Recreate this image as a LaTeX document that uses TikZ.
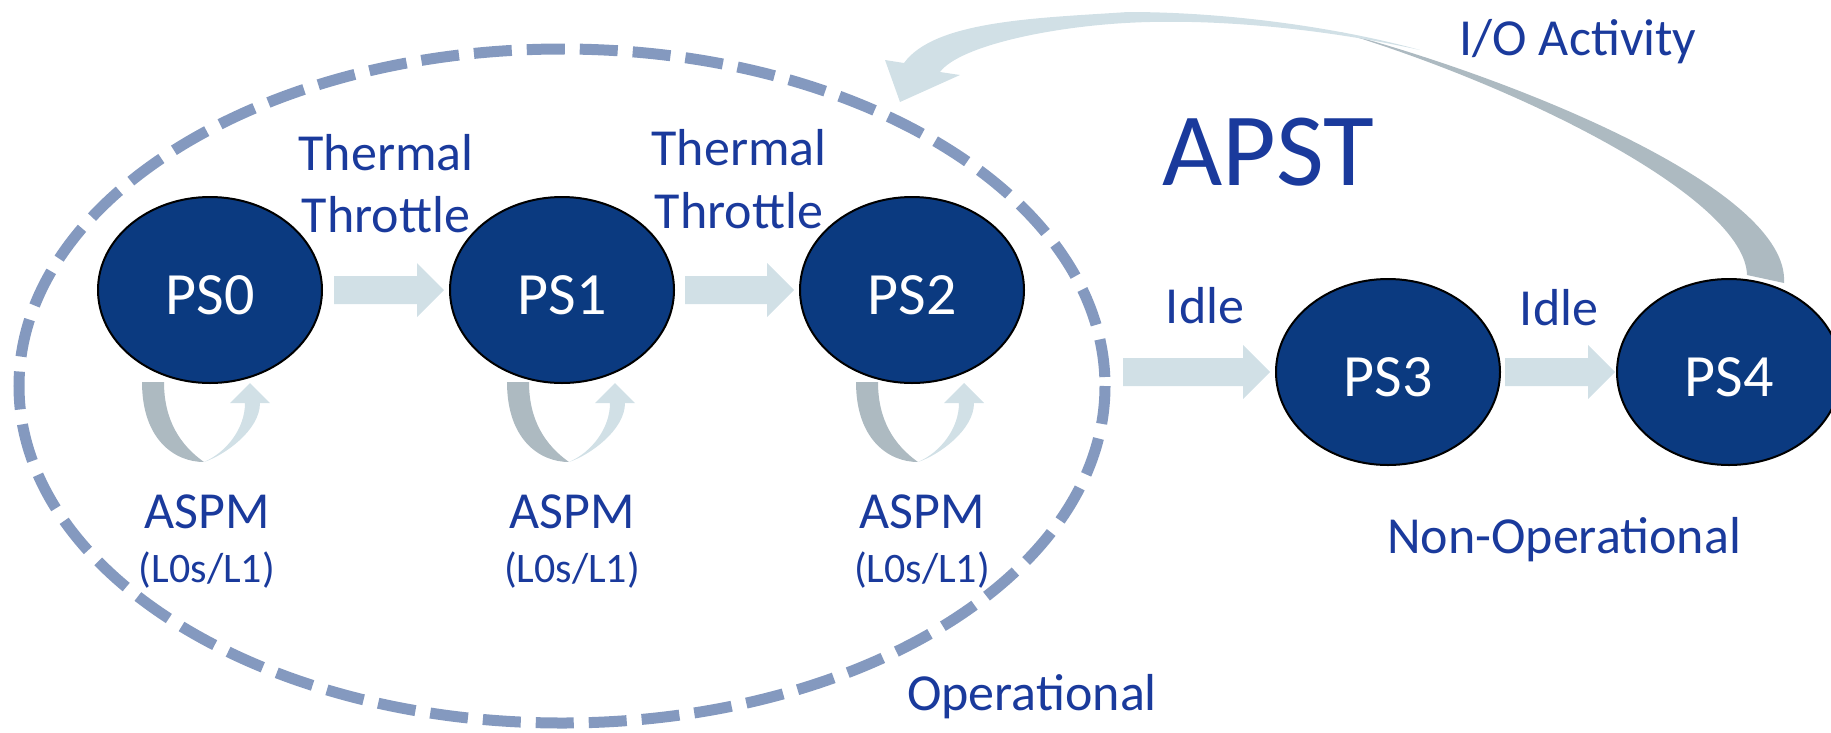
\documentclass[tikz,border=0pt]{standalone}
\usepackage{fontspec}
\setmainfont{Carlito}
\usetikzlibrary{calc,shapes.geometric}
\definecolor{nodefill}{HTML}{0B3A80}
\definecolor{labelblue}{HTML}{1A3A9C}
\definecolor{ringblue}{HTML}{8499BF}
\definecolor{arrowlight}{HTML}{D1E0E6}
\definecolor{arrowgrey}{HTML}{ADBAC1}

\begin{document}
\begin{tikzpicture}[x=1pt,y=-1pt,
  state/.style={ellipse, draw=black, line width=2pt, fill=nodefill, text=white,
    minimum width=224pt, minimum height=186pt, inner sep=0pt,
    text height=48pt, text depth=0pt, font=\fontsize{60}{72}\selectfont},
  lbl/.style={text=labelblue, anchor=base, inner sep=0pt, font=\fontsize{52}{62}\selectfont},
  sublbl/.style={lbl, font=\fontsize{42}{50}\selectfont},
  titlelbl/.style={lbl, font=\fontsize{104}{124}\selectfont},
  ring/.style={draw=ringblue, line width=11pt, dash pattern=on 38pt off 15pt},
  flow/.style 2 args={fill=arrowlight, to path={
    let \p1=(\tikztostart.east), \p2=(\tikztotarget.west) in
    (\x1+#1,\y2+14pt) -- (\x2-#2-27pt,\y2+14pt) -- (\x2-#2-27pt,\y2+27pt) --
    (\x2-#2,\y2) -- (\x2-#2-27pt,\y2-27pt) -- (\x2-#2-27pt,\y2-14pt) --
    (\x1+#1,\y2-14pt) -- cycle}},
  pics/aspmloop/.style={code={
    % back half of the U-turn
    \fill[arrowgrey] (-63,382) .. controls (-63,440) and (-30,462) .. (-1,462)
      .. controls (-25,445) and (-41,420) .. (-41,382) -- cycle;
    % front half rising to the arrow head
    \fill[arrowlight] (-1,462) .. controls (20,455) and (55,430) .. (55,403)
      -- (65,403) -- (45,383) -- (25,403) -- (40,403)
      .. controls (40,428) and (22,452) .. (-1,462) -- cycle;
  }}
]
\useasboundingbox (0,0) rectangle (1831,732);
\clip (0,0) rectangle (1831,732);

% operational region
\draw[ring] (562,386) ellipse [x radius=543, y radius=337];

% power states
\node[state] (PS0) at (210,290) {PS0};
\node[state] (PS1) at (562,290) {PS1};
\node[state] (PS2) at (912,290) {PS2};
\node[state] (PS3) at (1388,372) {PS3};
\node[state] (PS4) at (1729,372) {PS4};

% transitions
\path[flow={11pt}{5pt}] (PS0) to (PS1);
\path[flow={10pt}{5pt}] (PS1) to (PS2);
\path[flow={98pt}{5pt}] (PS2) to (PS3);
\path[flow={4pt}{1pt}] (PS3) to (PS4);

% ASPM self loops
\pic at (205,0) {aspmloop};
\pic at (570,0) {aspmloop};
\pic at (919,0) {aspmloop};

% I/O activity return path from PS4
\fill[arrowgrey] (1340,32) .. controls (1520,80) and (1790,190) .. (1784,283)
  -- (1747,275) .. controls (1745,200) and (1530,90) .. (1340,32) -- cycle;
\fill[arrowlight] (904,63) .. controls (935,20) and (1040,18) .. (1128,12)
  .. controls (1230,12) and (1340,28) .. (1420,50)
  .. controls (1330,30) and (1230,20) .. (1150,22)
  .. controls (1060,24) and (960,45) .. (940,72)
  -- (960,75) -- (900,102) -- (885,60) -- cycle;

% labels
\node[lbl] (th1a) at (386,170) {Thermal};
\node[lbl] (th1b) at (386,232) {Throttle};
\node[lbl] (th2a) at (739,165) {Thermal};
\node[lbl] (th2b) at (739,228) {Throttle};
\node[lbl] (idle1) at (1205,323) {Idle};
\node[lbl] (idle2) at (1559,325) {Idle};
\node[titlelbl] (apst) at (1268,185) {APST};
\node[lbl] (io) at (1578,55) {I/O Activity};
\node[lbl] (nonop) at (1564,553) {Non-Operational};
\node[lbl] (op) at (1032,710) {Operational};
\node[lbl] (aspm0) at (207,528) {ASPM};
\node[lbl] (aspm1) at (572,528) {ASPM};
\node[lbl] (aspm2) at (922,528) {ASPM};
\node[sublbl] (lo0) at (207,582) {(L0s/L1)};
\node[sublbl] (lo1) at (572,582) {(L0s/L1)};
\node[sublbl] (lo2) at (922,582) {(L0s/L1)};
\end{tikzpicture}
\end{document}
